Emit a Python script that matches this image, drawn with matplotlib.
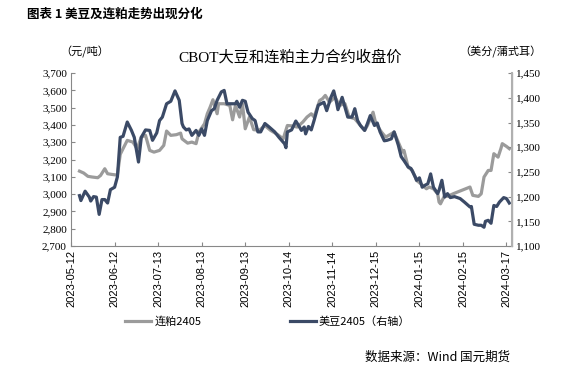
import matplotlib
matplotlib.use("Agg")
from matplotlib import pyplot as plt
import pandas as pd

# 连粕2405（元/吨）
dce_dates = ["2023-05-18", "2023-05-21", "2023-05-24", "2023-05-27", "2023-05-31", "2023-06-02", "2023-06-05",
             "2023-06-07", "2023-06-10", "2023-06-14", "2023-06-16", "2023-06-18", "2023-06-21", "2023-06-25",
             "2023-06-28", "2023-07-01", "2023-07-04", "2023-07-07", "2023-07-10", "2023-07-14", "2023-07-17",
             "2023-07-19", "2023-07-22", "2023-07-26", "2023-07-29", "2023-07-30", "2023-08-03", "2023-08-06",
             "2023-08-09", "2023-08-11", "2023-08-15", "2023-08-17", "2023-08-19", "2023-08-21", "2023-08-24",
             "2023-08-25", "2023-08-29", "2023-09-02", "2023-09-04", "2023-09-06", "2023-09-09", "2023-09-11",
             "2023-09-13", "2023-09-16", "2023-09-19", "2023-09-23", "2023-09-27", "2023-10-01", "2023-10-06",
             "2023-10-10", "2023-10-13", "2023-10-16", "2023-10-20", "2023-10-24", "2023-10-27", "2023-10-30",
             "2023-11-01", "2023-11-05", "2023-11-07", "2023-11-09", "2023-11-12", "2023-11-16", "2023-11-19",
             "2023-11-23", "2023-11-26", "2023-11-30", "2023-12-03", "2023-12-07", "2023-12-09", "2023-12-13",
             "2023-12-15", "2023-12-19", "2023-12-22", "2023-12-26", "2023-12-28", "2023-12-31", "2024-01-03",
             "2024-01-04", "2024-01-07", "2024-01-10", "2024-01-13", "2024-01-16", "2024-01-20", "2024-01-22",
             "2024-01-25", "2024-01-28", "2024-01-29", "2024-01-30", "2024-02-02", "2024-02-04", "2024-02-08",
             "2024-02-20", "2024-02-22", "2024-02-26", "2024-02-28", "2024-03-01", "2024-03-04", "2024-03-06",
             "2024-03-08", "2024-03-11", "2024-03-13", "2024-03-14", "2024-03-17", "2024-03-19"]
dce_values = [3133, 3122, 3103, 3099, 3095, 3108, 3147,
              3118, 3114, 3110, 3230, 3263, 3311, 3301,
              3263, 3330, 3340, 3253, 3243, 3253, 3282,
              3365, 3340, 3344, 3353, 3320, 3295, 3301,
              3292, 3359, 3407, 3465, 3503, 3546, 3465,
              3523, 3523, 3513, 3430, 3513, 3446, 3523,
              3378, 3446, 3373, 3369, 3397, 3369, 3345,
              3320, 3397, 3395, 3388, 3417, 3446, 3465,
              3446, 3542, 3552, 3571, 3532, 3561, 3513,
              3523, 3446, 3436, 3407, 3369, 3397, 3474,
              3407, 3359, 3330, 3349, 3359, 3300, 3243,
              3253, 3156, 3137, 3079, 3060, 3031, 3041,
              3031, 3002, 2954, 2944, 2993, 2987, 3002,
              3041, 2993, 2987, 3002, 3099, 3137, 3137,
              3234, 3214, 3263, 3292, 3276, 3263]

# 美豆2405（美分/蒲式耳）
cbot_dates = ["2023-05-18", "2023-05-19", "2023-05-22", "2023-05-25", "2023-05-26", "2023-05-28", "2023-05-30",
              "2023-06-01", "2023-06-03", "2023-06-05", "2023-06-07", "2023-06-09", "2023-06-12", "2023-06-14",
              "2023-06-16", "2023-06-18", "2023-06-21", "2023-06-24", "2023-06-26", "2023-06-29", "2023-07-01",
              "2023-07-04", "2023-07-07", "2023-07-09", "2023-07-12", "2023-07-14", "2023-07-16", "2023-07-19",
              "2023-07-22", "2023-07-25", "2023-07-28", "2023-07-30", "2023-07-31", "2023-08-02", "2023-08-04",
              "2023-08-06", "2023-08-09", "2023-08-11", "2023-08-13", "2023-08-15", "2023-08-17", "2023-08-20",
              "2023-08-22", "2023-08-24", "2023-08-27", "2023-08-29", "2023-08-31", "2023-09-03", "2023-09-06",
              "2023-09-07", "2023-09-09", "2023-09-11", "2023-09-13", "2023-09-15", "2023-09-18", "2023-09-20",
              "2023-09-22", "2023-09-24", "2023-09-27", "2023-09-30", "2023-10-04", "2023-10-07", "2023-10-11",
              "2023-10-12", "2023-10-13", "2023-10-16", "2023-10-19", "2023-10-21", "2023-10-23", "2023-10-25",
              "2023-10-26", "2023-10-28", "2023-10-30", "2023-11-01", "2023-11-04", "2023-11-06", "2023-11-08",
              "2023-11-10", "2023-11-13", "2023-11-15", "2023-11-17", "2023-11-18", "2023-11-21", "2023-11-23",
              "2023-11-25", "2023-11-28", "2023-11-30", "2023-12-02", "2023-12-04", "2023-12-07", "2023-12-09",
              "2023-12-11", "2023-12-14", "2023-12-16", "2023-12-18", "2023-12-21", "2023-12-23", "2023-12-26",
              "2023-12-28", "2023-12-31", "2024-01-02", "2024-01-04", "2024-01-07", "2024-01-09", "2024-01-12",
              "2024-01-13", "2024-01-15", "2024-01-17", "2024-01-19", "2024-01-21", "2024-01-23", "2024-01-25",
              "2024-01-28", "2024-01-29", "2024-01-31", "2024-02-02", "2024-02-04", "2024-02-06", "2024-02-09",
              "2024-02-13", "2024-02-16", "2024-02-20", "2024-02-21", "2024-02-23", "2024-02-26", "2024-02-28",
              "2024-03-01", "2024-03-02", "2024-03-04", "2024-03-06", "2024-03-08", "2024-03-10", "2024-03-12",
              "2024-03-15", "2024-03-17", "2024-03-19"]
cbot_values = [1202, 1192, 1211, 1199, 1191, 1200, 1199,
               1164, 1194, 1194, 1187, 1214, 1219, 1240,
               1320, 1322, 1351, 1334, 1320, 1270, 1320,
               1335, 1334, 1314, 1329, 1354, 1361, 1388,
               1393, 1414, 1395, 1348, 1341, 1335, 1337,
               1324, 1334, 1324, 1337, 1324, 1354, 1374,
               1378, 1395, 1412, 1415, 1388, 1388, 1388,
               1393, 1381, 1395, 1393, 1371, 1358, 1354,
               1331, 1331, 1348, 1341, 1331, 1320, 1307,
               1299, 1331, 1335, 1353, 1344, 1334, 1341,
               1327, 1342, 1335, 1354, 1385, 1388, 1391,
               1374, 1401, 1414, 1391, 1376, 1401, 1381,
               1361, 1361, 1378, 1354, 1344, 1334, 1348,
               1364, 1344, 1349, 1331, 1313, 1314, 1317,
               1331, 1304, 1281, 1273, 1260, 1257, 1240,
               1233, 1238, 1219, 1223, 1226, 1246, 1219,
               1206, 1213, 1233, 1199, 1206, 1198, 1200,
               1196, 1189, 1179, 1180, 1144, 1142, 1142,
               1138, 1150, 1152, 1146, 1182, 1180, 1189,
               1198, 1196, 1187]

tick_start = "2023-05-12"
x_end = "2024-03-21"

cjk = ['Noto Sans CJK SC', 'DejaVu Sans']
serif = ['Liberation Serif', 'Noto Sans CJK SC']
plt.rcParams['font.family'] = cjk
plt.rcParams['axes.unicode_minus'] = False

fig = plt.figure(figsize=(5.64, 3.75), dpi=100)
ax = fig.add_axes([0.126, 0.344, 0.782, 0.461])
ax2 = ax.twinx()

gray = '#9b9b9b'
navy = '#3b4a66'
l1, = ax.plot(pd.to_datetime(dce_dates), dce_values, color=gray, lw=2.3, label='连粕2405')
l2, = ax2.plot(pd.to_datetime(cbot_dates), cbot_values, color=navy, lw=2.3, label='美豆2405（右轴）')
ax.set_zorder(ax2.get_zorder() - 1)
ax2.patch.set_visible(False)

# 左轴
ax.set_ylim(2700, 3700)
ax.set_yticks(range(2700, 3701, 100))
ax.set_yticklabels(["{:,}".format(v) for v in range(2700, 3701, 100)], family=serif, fontsize=8)
# 右轴
ax2.set_ylim(1100, 1450)
ax2.set_yticks(range(1100, 1451, 50))
ax2.set_yticklabels(["{:,}".format(v) for v in range(1100, 1451, 50)], family=serif, fontsize=8)

# 日期刻度，每31天一个
ticks = pd.date_range(tick_start, periods=11, freq='31D')
ax.set_xlim(pd.Timestamp(tick_start), pd.Timestamp(x_end))
ax.set_xticks(ticks)
ax.set_xticklabels([t.strftime('%Y-%m-%d') for t in ticks], rotation=90,
                   family=['Liberation Sans'], fontsize=8)

for a in (ax, ax2):
    a.spines['top'].set_visible(False)
    a.tick_params(direction='in', length=3, color='#888888', pad=3)
ax.spines['left'].set_color('#888888')
ax.spines['bottom'].set_color('#888888')
ax2.spines['left'].set_visible(False)
ax2.spines['bottom'].set_visible(False)
ax2.spines['right'].set_color('#b0b0b0')
ax2.spines['right'].set_linewidth(1.5)

# 文字
fig.text(0.048, 0.962, '图表 1 美豆及连粕走势出现分化', fontsize=9, fontweight='bold', va='center')
fig.text(0.514, 0.848, 'CBOT大豆和连粕主力合约收盘价', fontsize=11, family=serif, ha='center', va='center')
fig.text(0.150, 0.862, '（元/吨）', fontsize=8, ha='center', va='center')
fig.text(0.887, 0.862, '（美分/蒲式耳）', fontsize=8, ha='center', va='center')

fig.legend(handles=[l1, l2], loc='center', bbox_to_anchor=(0.475, 0.142), ncol=2, frameon=False,
           fontsize=8, handlelength=2.3, columnspacing=8, handletextpad=0.3)

fig.text(0.905, 0.048, '数据来源：Wind 国元期货', fontsize=9, ha='right', va='center')

plt.savefig('out.png', dpi=100)
